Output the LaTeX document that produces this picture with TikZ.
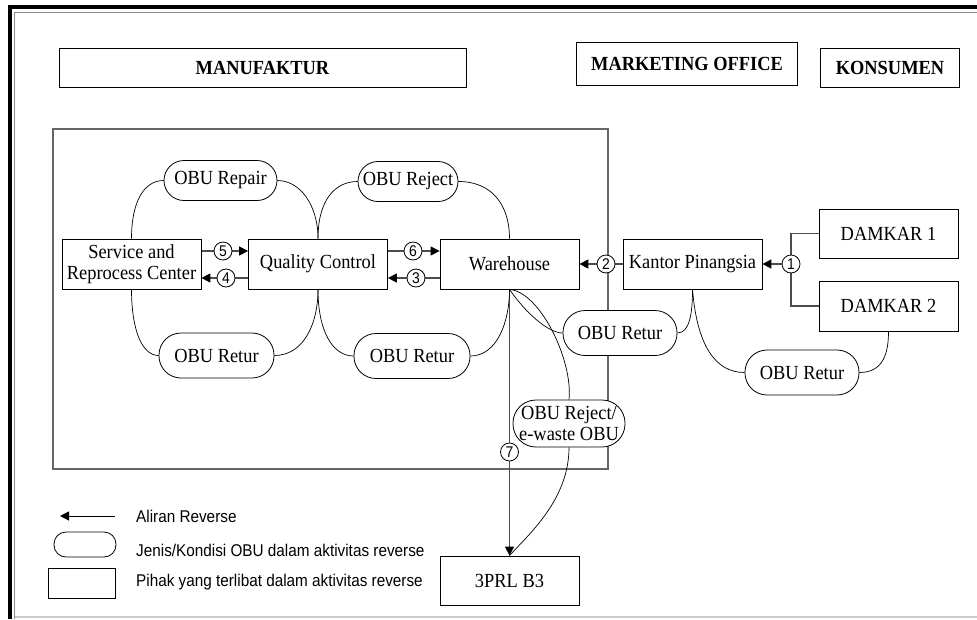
\documentclass[tikz,border=0pt]{standalone}
\usepackage{fontspec}
\setmainfont[FakeStretch=0.92]{Liberation Serif}
\setsansfont[FakeStretch=0.9]{Liberation Sans}
\usetikzlibrary{arrows.meta,calc}
\pgfdeclarelayer{bg}
\pgfsetlayers{bg,main}
\begin{document}
\begin{tikzpicture}[x=1pt,y=-1pt,
 box/.style={draw=black,line width=0.8pt,fill=white,minimum width=139pt,minimum height=50pt,inner sep=2pt,align=center,font=\fontsize{20}{21.5}\selectfont},
 head/.style={draw=black,line width=0.8pt,fill=white,align=center,inner sep=0pt,font=\fontsize{20}{21}\selectfont\bfseries},
 pill/.style={draw=black,line width=0.8pt,fill=white,rounded corners=22pt,minimum height=45pt,align=center,inner sep=0pt,font=\fontsize{20}{20.5}\selectfont},
 num/.style={circle,draw=black,line width=0.8pt,fill=white,minimum size=18pt,inner sep=0pt,font=\sffamily\fontsize{15.5}{15.5}\selectfont},
 flow/.style={draw=black!70,line width=1.3pt,-{Triangle[length=9pt,width=9pt,color=black]}},
 branch/.style={draw=black!70,line width=1.3pt},
 link/.style={draw=black,line width=0.7pt},
 legtext/.style={anchor=west,inner sep=0pt,font=\sffamily\fontsize{17}{17}\selectfont},
]
\useasboundingbox (0,0) rectangle (977,619);
% frame
\draw[line width=4pt] (8,7) -- (977,7);
\draw[line width=4pt] (10,5) -- (10,619);
\draw[black!45,line width=1pt] (977,12.5) -- (14.5,12.5) -- (14.5,619);
\draw[black!20,line width=1.2pt] (14.5,617) -- (977,617);

% headers
\node[head,minimum width=407pt,minimum height=39pt] (manu) at (262.5,67.5) {MANUFAKTUR};
\node[head,minimum width=221pt,minimum height=43pt] (mo) at (687,64) {MARKETING OFFICE};
\node[head,minimum width=139pt,minimum height=39pt] (kons) at (890,67.5) {KONSUMEN};

% manufaktur area
\begin{pgfonlayer}{bg}
\draw[black!60,line width=1.3pt] (53,129) rectangle (608,469);
\end{pgfonlayer}

% boxes
\node[box] (src) at (131.5,264) {Service and\\Reprocess Center};
\node[box] (qc) at (318,264) {Quality Control};
\node[box] (wh) at (509.5,264) {Warehouse};
\node[box] (kp) at (692.5,264) {Kantor Pinangsia};
\node[box,minimum height=49pt] (d1) at (888.5,233.5) {DAMKAR 1};
\node[box] (d2) at (888.5,306) {DAMKAR 2};
\node[box,minimum height=49pt] (prl) at (509.5,580.5) {3PRL B3};

% pills
\node[pill,minimum width=113pt,minimum height=40pt,rounded corners=20pt] (prep) at (220.5,180.5) {OBU Repair};
\node[pill,minimum width=100pt,minimum height=40pt,rounded corners=20pt] (prej) at (408,181.5) {OBU Reject};
\node[pill,minimum width=115pt] (pr1) at (216.5,355.5) {OBU Retur};
\node[pill,minimum width=116pt] (pr2) at (412,356) {OBU Retur};
\node[pill,minimum width=114pt] (pr3) at (620,333) {OBU Retur};
\node[pill,minimum width=114pt] (pr4) at (802,372.5) {OBU Retur};
\node[pill,minimum width=112pt,minimum height=47pt,rounded corners=23pt] (pew) at (569,423.5) {OBU Reject/\\e-waste OBU};

% numbers
\node[num] (c5) at (223,251) {5};
\node[num] (c4) at (226,278) {4};
\node[num] (c6) at (413,251) {6};
\node[num] (c3) at (416,278) {3};
\node[num] (c2) at (606,264) {2};
\node[num] (c1) at (791,264) {1};
\node[num] (c7) at (509.5,452) {7};

% legend
\coordinate (la1) at (115,516);
\coordinate (la0) at (60,516);
\node[legtext] (lt1) at (136,516) {Aliran Reverse};
\node[draw=black,line width=0.8pt,rounded corners=12pt,minimum width=62pt,minimum height=25pt] (lp) at (85,544.5) {};
\node[legtext] (lt2) at (136,550) {Jenis/Kondisi OBU dalam aktivitas reverse};
\node[draw=black,line width=0.8pt,minimum width=67pt,minimum height=30pt] (lr) at (81.5,583) {};
\node[legtext] (lt3) at (136,582) {Pihak yang terlibat dalam aktivitas reverse};

\begin{pgfonlayer}{bg}
% flows
\draw[flow] (src.east|-c5) -- (qc.west|-c5);
\draw[flow] (qc.west|-c4) -- (src.east|-c4);
\draw[flow] (qc.east|-c6) -- (wh.west|-c6);
\draw[flow] (wh.west|-c3) -- (qc.east|-c3);
\draw[flow] (kp.west) -- (wh.east);
\draw[flow] (c1) -- (kp.east);
\draw[branch] (d1.west) -| (c1) |- (d2.west);
\draw[flow] (wh.south) -- (prl.north);
\draw[draw=black,line width=1pt,-{Triangle[length=9pt,width=9pt]}] (la1) -- (la0);
% curves
\draw[link] (src.north) .. controls (131.5,200) and (145,180.5) .. (prep.west);
\draw[link] (prep.east) .. controls (300,180.5) and (318,205) .. (qc.north);
\draw[link] (qc.north) .. controls (318,200) and (335,181.5) .. (prej.west);
\draw[link] (prej.east) .. controls (492,181.5) and (509.5,205) .. (wh.north);
\draw[link] (src.south) .. controls (131.5,330) and (142,355.5) .. (pr1.west);
\draw[link] (pr1.east) .. controls (303,355.5) and (318,325) .. (qc.south);
\draw[link] (qc.south) .. controls (318,330) and (332,356) .. (pr2.west);
\draw[link] (pr2.east) .. controls (497,356) and (509.5,322) .. (wh.south);
\draw[link] (wh.south) .. controls (525,312) and (548,333) .. (pr3.west);
\draw[link] (pr3.east) .. controls (690,333) and (692.5,312) .. (kp.south);
\draw[link] (kp.south) .. controls (697,345) and (715,372.5) .. (pr4.west);
\draw[link] (pr4.east) .. controls (884,372.5) and (888.5,352) .. (d2.south);
\draw[link] (wh.south) .. controls (540,292) and (573,360) .. (pew.north);
\draw[link] (pew.south) .. controls (569,500) and (528,535) .. (prl.north);
\end{pgfonlayer}
\end{tikzpicture}
\end{document}
